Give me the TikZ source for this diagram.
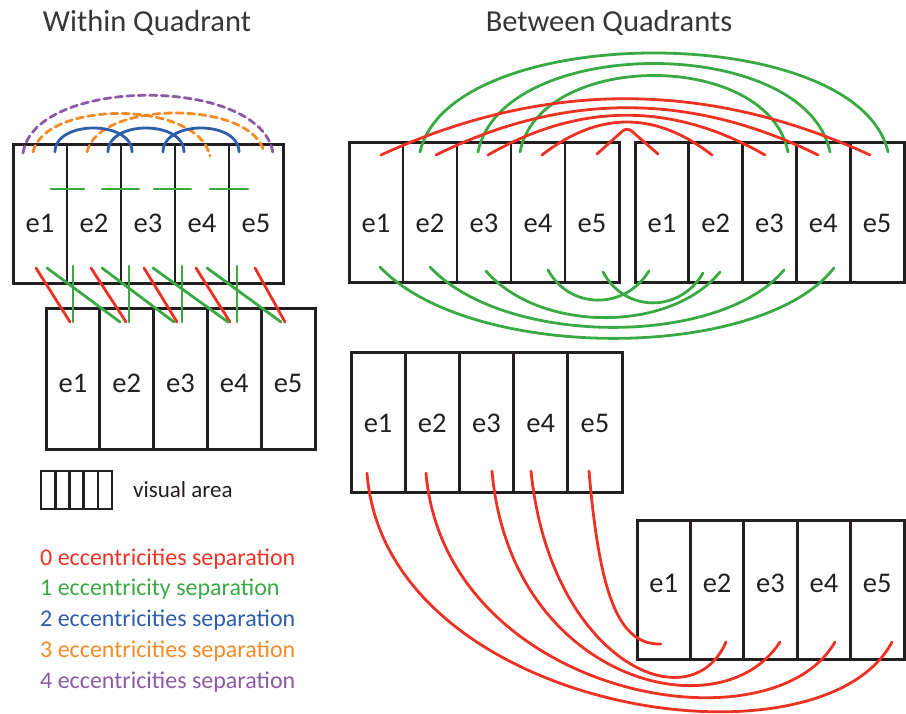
\documentclass[tikz,border=0pt]{standalone}
\usepackage{fontspec}
\setmainfont{Carlito}
\definecolor{ink}{RGB}{35,31,32}
\definecolor{sred}{RGB}{237,50,36}
\definecolor{sgreen}{RGB}{57,169,67}
\definecolor{sblue}{RGB}{46,93,170}
\definecolor{sorange}{RGB}{245,138,40}
\definecolor{spurple}{RGB}{140,90,166}
\begin{document}
\begin{tikzpicture}[x=1pt,y=-1pt,
  frame/.style={draw=ink,line width=3pt},
  divider/.style={draw=ink,line width=2.8pt},
  link/.style={line width=2.8pt,line cap=round},
  elab/.style={font=\fontsize{28.5}{30}\selectfont,text=ink,anchor=base,inner sep=0pt},
  title/.style={font=\fontsize{30.5}{32}\selectfont,text=ink!90,anchor=base,inner sep=0pt},
  legend/.style={font=\fontsize{24}{26}\selectfont,anchor=base west,inner sep=0pt}]
\useasboundingbox (0,0) rectangle (906,714);

% ---------- titles ----------
\node[title] (t1) at (147,32) {Within Quadrant};
\node[title] (t2) at (609,32) {Between Quadrants};

% ---------- strips of five eccentricity cells: left, top, right, bottom, label baseline, name ----------
\foreach \L/\T/\R/\B/\Y/\n in {13/145/283/284/233/wa, 46/309/315/449/392/wb,
                                349/143/619/283/233/ba, 635/143/904/283/233/bb,
                                351/353/622/492/432/bc, 637/520/904/659/592/bd}{
  \pgfmathsetmacro{\w}{(\R-\L)/5}
  \draw[frame] (\L,\T) rectangle (\R,\B);
  \foreach \k in {1,...,4}{
    \draw[divider] ({\L+\k*\w},\T) -- ({\L+\k*\w},\B);
  }
  \foreach \k in {1,...,5}{
    \node[elab] (\n\k) at ({\L+(\k-0.5)*\w},\Y) {e\k};
  }
}

% ---------- within quadrant: links inside the upper strip ----------
\draw[link,spurple,dashed,dash pattern=on 7pt off 4.5pt] (23,153) .. controls (35,76) and (261,76) .. (273,153);
\draw[link,sorange,dashed,dash pattern=on 7pt off 4.5pt] (33,152) .. controls (45,100) and (198,100) .. (210,156);
\draw[link,sorange,dashed,dash pattern=on 7pt off 4.5pt] (87,152) .. controls (99,100) and (252,100) .. (264,152);
\foreach \a/\b in {55/132,108/184,163/239}{
  \draw[link,sblue] (\a,152) .. controls (\a,120) and (\b,120) .. (\b,152);
}
\foreach \a/\b in {51/84,102/139,154/191,210/248}{
  \draw[link,sgreen] (\a,189) -- (\b,189);
}

% ---------- within quadrant: links between the two strips ----------
\foreach \a/\b in {36/70,91/126,144/177,196/230,255/285}{
  \draw[link,sred] (\a,268) -- (\b,322);
}
\foreach \a/\b in {47/120,102/174,153/228,207/281}{
  \draw[link,sgreen] (\a,268) -- (\b,322);
}
\foreach \a in {73,129,182,237}{
  \draw[link,sgreen] (\a,266) -- (\a,322);
}

% ---------- between quadrants: mirrored strips, upper links ----------
\draw[link,sgreen] (420,152) .. controls (450,20) and (858,20) .. (888,152);
\draw[link,sgreen] (478,152) .. controls (502,34) and (806,34) .. (830,152);
\draw[link,sgreen] (520,152) .. controls (540,50) and (768,50) .. (788,152);

\draw[link,sred] (381,155) .. controls (544,80) and (707,80) .. (870,155);
\draw[link,sred] (436,155) .. controls (563,92) and (691,92) .. (818,155);
\draw[link,sred] (488,155) .. controls (580,102) and (673,102) .. (765,155);
\draw[link,sred] (542,155) .. controls (599,111) and (655,111) .. (712,155);
\draw[link,sred,rounded corners=6pt] (597,154) -- (627,127) -- (658,154);

% ---------- between quadrants: mirrored strips, lower links ----------
\draw[link,sgreen] (380,267) .. controls (470,362) and (760,362) .. (834,268);
\draw[link,sgreen] (430,267) .. controls (505,347) and (720,347) .. (784,270);
\draw[link,sgreen] (486,271) .. controls (540,333) and (670,333) .. (720,272);
\draw[link,sgreen] (548,270) .. controls (570,310) and (625,310) .. (649,271);
\draw[link,sgreen] (603,272) .. controls (625,313) and (680,313) .. (703,273);

% ---------- between quadrants: diagonal strips ----------
\draw[link,sred] (367,473) .. controls (385,712) and (820,778) .. (892,642);
\draw[link,sred] (426,473) .. controls (445,695) and (770,755) .. (835,642);
\draw[link,sred] (492,471) .. controls (510,680) and (720,735) .. (780,642);
\draw[link,sred] (531,471) .. controls (550,660) and (690,725) .. (726,642);
\draw[link,sred] (589,471) .. controls (600,600) and (620,645) .. (661,644);

% ---------- legend ----------
\draw[frame,line width=2.8pt] (41,471) rectangle (112,509);
\foreach \k in {1,...,4}{
  \draw[divider,line width=2.6pt] ({41+\k*14.2},471) -- ({41+\k*14.2},509);
}
\node[legend,text=ink,font=\fontsize{23}{26}\selectfont] (va) at (133,497) {visual area};
\node[legend,text=sred]    (l0) at (40,565) {0 eccentricities separation};
\node[legend,text=sgreen]  (l1) at (40,595) {1 eccentricity separation};
\node[legend,text=sblue]   (l2) at (40,626) {2 eccentricities separation};
\node[legend,text=sorange] (l3) at (40,657) {3 eccentricities separation};
\node[legend,text=spurple] (l4) at (40,688) {4 eccentricities separation};
\end{tikzpicture}
\end{document}
